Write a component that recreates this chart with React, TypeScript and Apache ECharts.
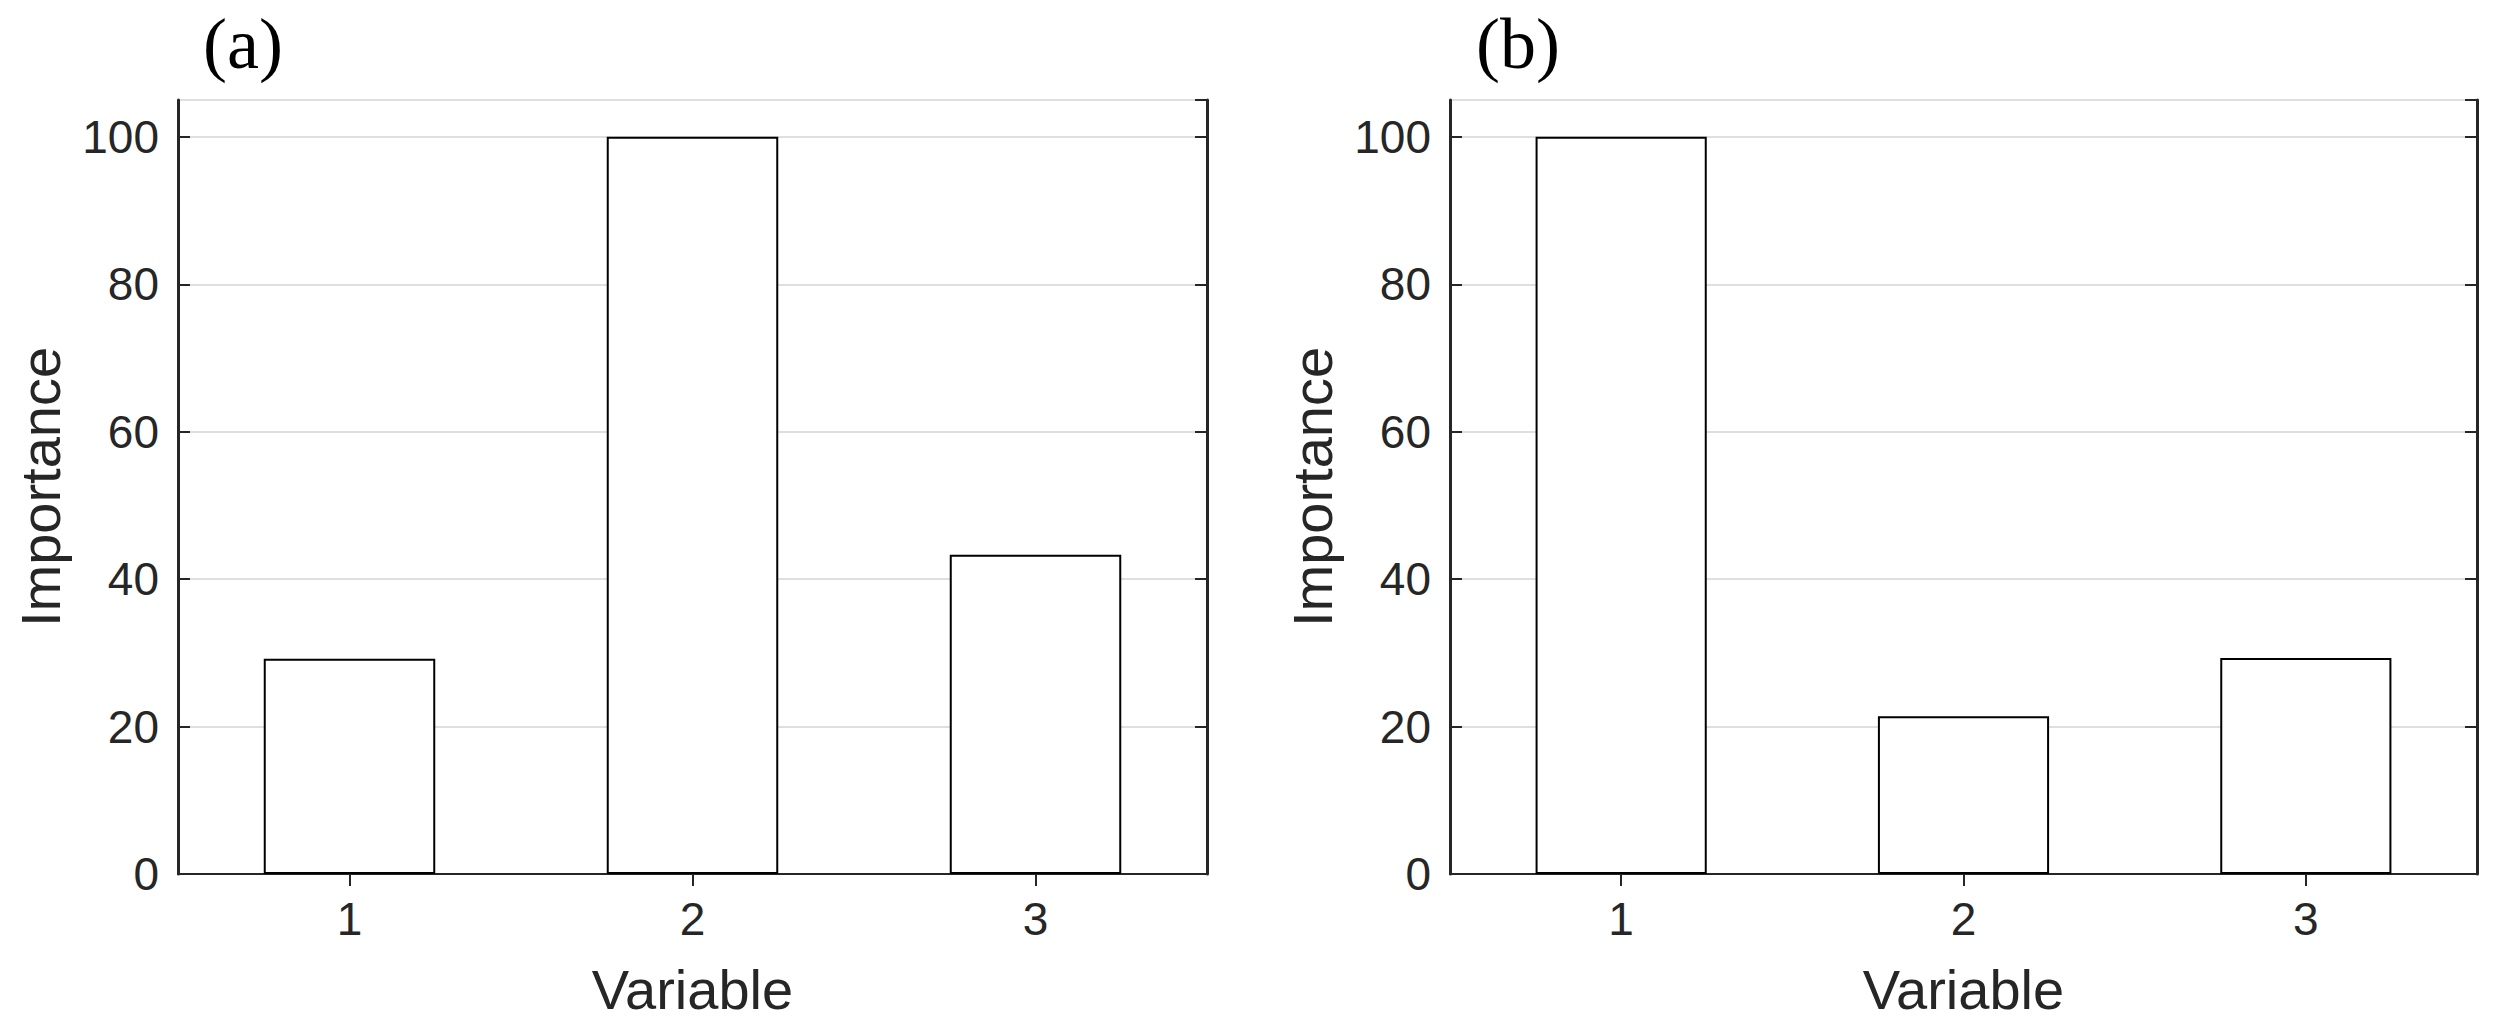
import React, { useEffect, useRef } from "react";
import * as echarts from "echarts";

const categories = ["1", "2", "3"];
const importanceA = [29.2, 100, 43.3];
const importanceB = [100, 21.4, 29.3];
const yTicks = [0, 20, 40, 60, 80, 100];
const panelLabels = ["(a)", "(b)"];
const xName = "Variable";
const yName = "Importance";

const AX = "#262626";
const SANS = "'Liberation Sans', Arial, Helvetica, sans-serif";
const SERIF = "'Liberation Serif', 'Times New Roman', serif";

export default function App() {
  const ref = useRef<HTMLDivElement>(null);
  useEffect(() => {
    const chart = echarts.init(ref.current!, null, { renderer: "svg" });
    const grids = [
      { left: 178, right: 1286, top: 100, bottom: 161 },
      { left: 1450, right: 16, top: 100, bottom: 161 },
    ];
    const datasets = [importanceA, importanceB];
    const xAxes: any[] = [];
    const yAxes: any[] = [];
    const series: any[] = [];
    grids.forEach((g, i) => {
      xAxes.push({
        type: "category",
        gridIndex: i,
        data: categories,
        position: "bottom",
        axisLine: { show: true, lineStyle: { color: AX, width: 2 } },
        axisTick: { show: true, inside: true, length: 12, alignWithLabel: true, lineStyle: { color: AX, width: 2 } },
        axisLabel: { fontSize: 46, color: AX, margin: 22, fontFamily: SANS },
        splitLine: { show: false },
        name: xName,
        nameLocation: "middle",
        nameGap: 87,
        nameTextStyle: { fontSize: 56, color: AX, fontFamily: SANS },
      });
      xAxes.push({
        type: "category",
        gridIndex: i,
        data: categories,
        position: "top",
        axisLine: { show: true, lineStyle: { color: AX, width: 2 } },
        axisTick: { show: true, inside: true, length: 12, alignWithLabel: true, lineStyle: { color: AX, width: 2 } },
        axisLabel: { show: false },
        splitLine: { show: false },
      });
      yAxes.push({
        type: "value",
        gridIndex: i,
        position: "left",
        min: 0,
        max: 105,
        interval: 20,
        axisLine: { show: true, lineStyle: { color: AX, width: 3 } },
        axisTick: { show: true, inside: true, length: 12, lineStyle: { color: AX, width: 2 } },
        axisLabel: {
          fontSize: 46,
          color: AX,
          margin: 19,
          fontFamily: SANS,
          showMaxLabel: false,
          formatter: (v: number) => (yTicks.includes(v) ? String(v) : ""),
        },
        splitLine: { show: true, lineStyle: { color: "#dfdfdf", width: 2 } },
        name: yName,
        nameLocation: "middle",
        nameRotate: 90,
        nameGap: 110,
        nameTextStyle: { fontSize: 56, color: AX, fontFamily: SANS },
      });
      yAxes.push({
        type: "value",
        gridIndex: i,
        position: "right",
        min: 0,
        max: 105,
        interval: 20,
        axisLine: { show: true, lineStyle: { color: AX, width: 3 } },
        axisTick: { show: true, inside: true, length: 12, lineStyle: { color: AX, width: 2 } },
        axisLabel: { show: false },
        splitLine: { show: false },
      });
      series.push({
        type: "bar",
        xAxisIndex: 2 * i,
        yAxisIndex: 2 * i,
        data: datasets[i],
        barWidth: "50%",
        itemStyle: { color: "#ffffff", borderColor: "#000000", borderWidth: 2 },
        silent: true,
      });
    });
    chart.setOption({
      animation: false,
      backgroundColor: "#ffffff",
      grid: grids,
      xAxis: xAxes,
      yAxis: yAxes,
      series,
      graphic: [
        {
          type: "text",
          left: 203,
          top: 8,
          style: { text: panelLabels[0], fontSize: 72, fontFamily: SERIF, fill: "#000" },
        },
        {
          type: "text",
          left: 1476,
          top: 8,
          style: { text: panelLabels[1], fontSize: 72, fontFamily: SERIF, fill: "#000" },
        },
      ],
    });
    return () => chart.dispose();
  }, []);
  return (
    <div
      ref={ref}
      style={{ position: "absolute", left: 0, top: 0, width: 2493, height: 1035, background: "#fff" }}
    />
  );
}
